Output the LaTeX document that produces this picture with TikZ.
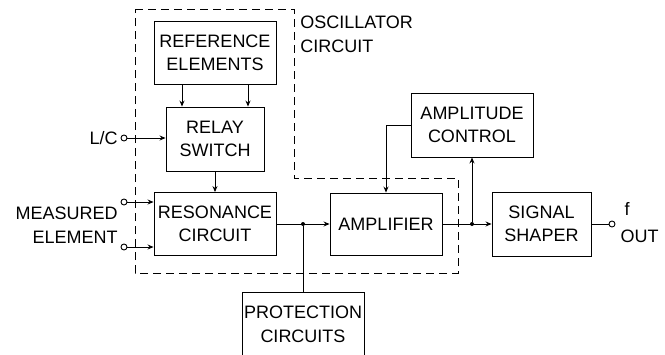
\documentclass[tikz,border=0pt]{standalone}
\usepackage{fontspec}
\setmainfont{Liberation Sans}
\usetikzlibrary{arrows.meta,positioning,calc}

\begin{document}
\begin{tikzpicture}[x=1pt,y=-1pt,line width=.9pt,
  blk/.style={draw,align=center,inner sep=0pt,font=\fontsize{18}{23}\selectfont},
  lbl/.style={inner sep=0pt,font=\fontsize{18}{24}\selectfont},
  arr/.style={-{Stealth[length=6pt,width=5pt]}},
  term/.style={circle,draw,fill=white,inner sep=0pt,minimum size=6pt},
  jdot/.style={circle,fill,inner sep=0pt,minimum size=4pt}]
\useasboundingbox (0,0) rectangle (665,354);
\clip (0,0) rectangle (665,354);
% oscillator boundary
\draw[dash pattern=on 8pt off 5pt] (135,9) -- (294,9) -- (294,178) -- (458,178) -- (458,273) -- (135,273) -- cycle;
\node[lbl,anchor=west,align=left] (osc) at (300,34) {OSCILLATOR\\CIRCUIT};
% blocks
\node[blk,minimum width=122pt,minimum height=63pt] (ref) at (215,52.5) {REFERENCE\\ELEMENTS};
\node[blk,minimum width=98pt,minimum height=64pt] (relay) at (215,139) {RELAY\\SWITCH};
\node[blk,minimum width=122pt,minimum height=63pt] (reson) at (215,224) {RESONANCE\\CIRCUIT};
\node[blk,minimum width=112pt,minimum height=62pt] (amp) at (386,224) {AMPLIFIER};
\node[blk,minimum width=122pt,minimum height=64pt] (ampctl) at (472,125) {AMPLITUDE\\CONTROL};
\node[blk,minimum width=99pt,minimum height=64pt] (shaper) at (541.5,224) {SIGNAL\\SHAPER};
\node[blk,minimum width=122pt,minimum height=80pt,anchor=north] (prot) at (303,292) {};
\node[lbl,align=center] (protlab) at (303,324) {PROTECTION\\CIRCUITS};
% terminals
\node[term] (lc) at (124,138) {};
\node[term] (m1) at (124,202) {};
\node[term] (m2) at (124,247) {};
\node[term] (fout) at (612,224) {};
\node[lbl,anchor=east] (lclab) at (118,138) {L/C};
\node[lbl,anchor=east,align=right] (mlab) at (118,225) {MEASURED\\ELEMENT};
\node[lbl] (flab) at (627,209) {f};
\node[lbl] (outlab) at (639.5,236) {OUT};
% connections
\draw[arr] ($(ref.south)+(-33,0)$) -- ($(relay.north)+(-33,0)$);
\draw[arr] ($(ref.south)+(33,0)$) -- ($(relay.north)+(33,0)$);
\draw[arr] (lc) -- (lc -| relay.west);
\draw[arr] (relay.south) -- (reson.north);
\draw[arr] (m1) -- (m1 -| reson.west);
\draw[arr] (m2) -- (m2 -| reson.west);
\draw[arr] (reson.east) -- (amp.west);
\node[jdot] (j1) at (prot.north |- reson.east) {};
\draw (j1) -- (prot.north);
\draw[arr] (amp.east) -- (shaper.west);
\node[jdot] (j2) at (ampctl.south |- amp.east) {};
\draw[arr] (j2) -- (ampctl.south);
\draw[arr] (ampctl.west) -| (amp.north);
\draw (shaper.east) -- (fout);
\end{tikzpicture}
\end{document}
